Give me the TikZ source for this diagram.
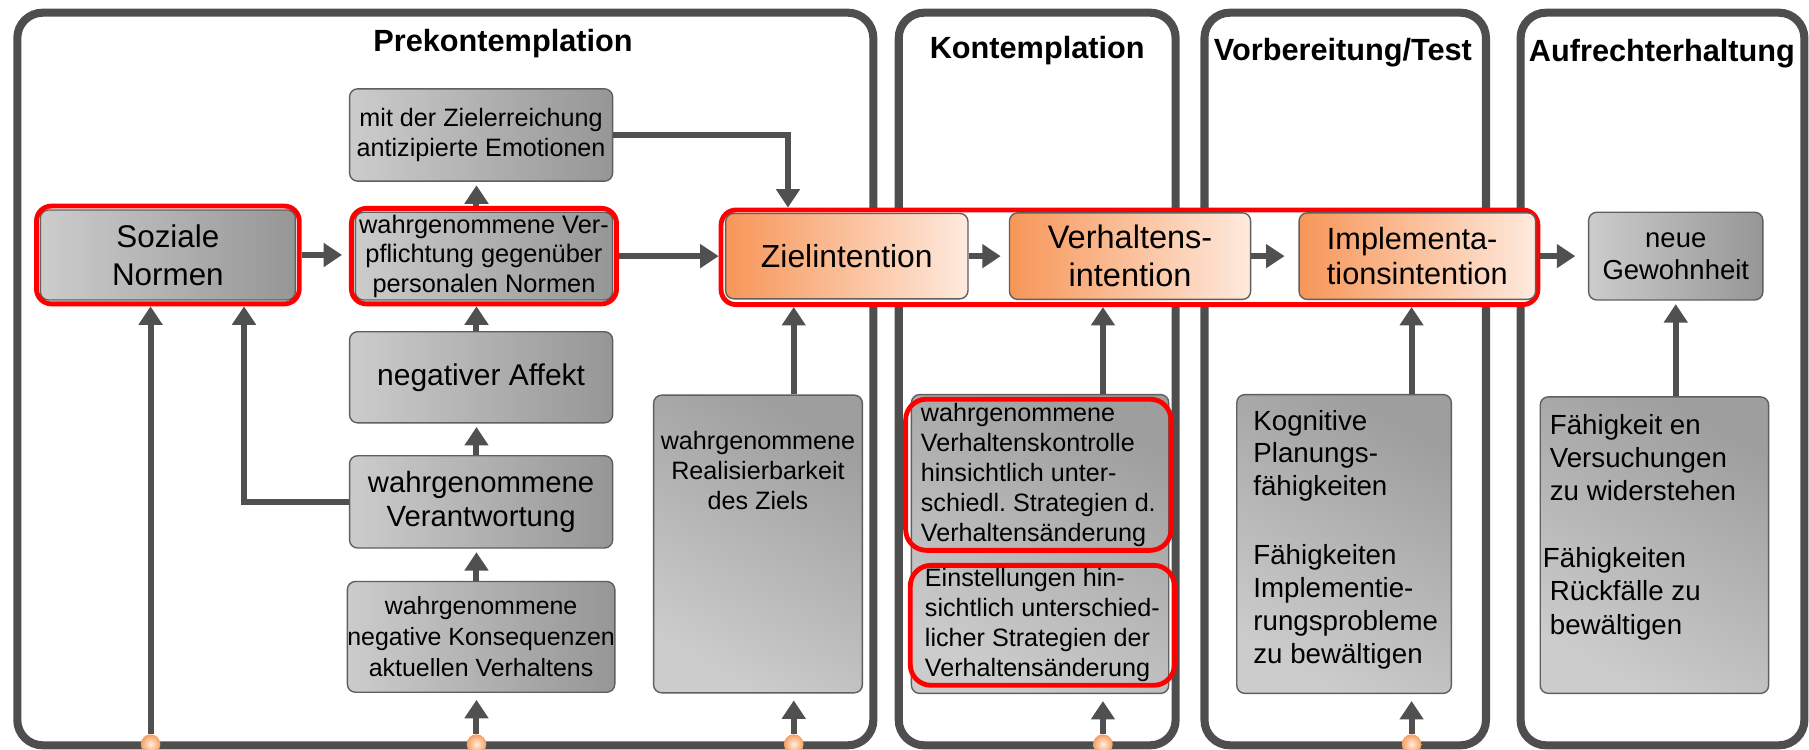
\documentclass[tikz,border=0pt]{standalone}
\usepackage{fontspec}
\setmainfont{Liberation Sans}
\usetikzlibrary{arrows.meta,fit,calc}
\frenchspacing

\definecolor{pgray}{RGB}{78,78,78}
\definecolor{agray}{RGB}{80,80,80}
\definecolor{boxline}{RGB}{95,95,95}
\definecolor{glight}{RGB}{204,204,204}
\definecolor{gdark}{RGB}{150,150,150}
\definecolor{gdarkt}{RGB}{158,158,158}
\definecolor{odark}{RGB}{247,150,88}
\definecolor{olight}{RGB}{254,234,222}
\definecolor{dotin}{RGB}{255,238,224}
\definecolor{dotout}{RGB}{247,158,96}

\begin{document}
\begin{tikzpicture}[x=0.5pt,y=-0.5pt,
  sz/.style 2 args={minimum width=#1*0.5pt, minimum height=#2*0.5pt},
  panel/.style={draw=pgray, line width=3.5pt, rounded corners=11pt, fill=white, inner sep=0pt},
  ttl/.style={font=\fontsize{13.3}{16}\selectfont\bfseries, anchor=base, inner sep=0pt},
  gbox/.style={draw=boxline, line width=0.6pt, rounded corners=3.5pt,
    left color=glight, right color=gdark, inner sep=0pt, align=center},
  obox/.style={draw=boxline, line width=0.6pt, rounded corners=3.5pt,
    left color=odark, right color=olight, inner sep=0pt, align=center},
  tbox/.style={draw=boxline, line width=0.6pt, rounded corners=3.5pt,
    top color=gdarkt, bottom color=glight, shading angle=-30, inner sep=0pt},
  hl/.style={draw=red, line width=2.1pt, rounded corners=6.5pt, inner sep=1.4pt},
  hlbig/.style={draw=red, line width=2.1pt, rounded corners=9pt, inner sep=0pt, align=left},
  arr/.style={draw=agray, line width=2.6pt, -{Triangle[length=8pt,width=10pt]}},
  dot/.style={circle, minimum size=8.5pt, inner sep=0pt, inner color=dotin, outer color=dotout},
  txt/.style={inner sep=0pt}
]
\useasboundingbox (0,0) rectangle (1568,650);

% stage panels
\node[panel, sz={742}{635}] (p1) at (386,328.5) {};
\node[panel, sz={240}{635}] (p2) at (899,328.5) {};
\node[panel, sz={244}{635}] (p3) at (1166,328.5) {};
\node[panel, sz={246}{635}] (p4) at (1441,328.5) {};

\node[ttl] (t1) at (436,44.8) {Prekontemplation};
\node[ttl] (t2) at (899,50.5) {Kontemplation};
\node[ttl] (t3) at (1164,52) {Vorbereitung/Test};
\node[ttl] (t4) at (1440.5,53.5) {Aufrechterhaltung};

% frame around the chain of intentions
\node[hl, fill=white, sz={708}{82}] (bigred) at (979,223) {};

% Prekontemplation
\node[gbox, sz={221}{78}, font=\fontsize{13.6}{16.5}\selectfont] (soz) at (145.5,221) {Soziale\\Normen};
\node[hl, fit=(soz)] (sozr) {};
\node[gbox, sz={223}{76}, font=\fontsize{11}{12.75}\selectfont] (verpf) at (419.5,222)
  {wahrgenommene Ver-\\pflichtung gegenüber\\personalen Normen};
\node[hl, fit=(verpf)] (verpfr) {};
\node[gbox, sz={228}{80}, font=\fontsize{10.9}{13.3}\selectfont] (emo) at (417,117)
  {mit der Zielerreichung\\antizipierte Emotionen};
\node[gbox, sz={228}{79}, font=\fontsize{13}{15}\selectfont] (aff) at (417,327) {negativer Affekt};
\node[gbox, sz={228}{80}, font=\fontsize{12.7}{14.7}\selectfont] (verant) at (417,435)
  {wahrgenommene\\Verantwortung};
\node[gbox, sz={228}{96}, font=\fontsize{10.8}{13.4}\selectfont] (kons) at (417,552)
  {wahrgenommene\\negative Konsequenzen\\aktuellen Verhaltens};
\node[tbox, sz={181}{258}] (real) at (657,471.5) {};
\node[txt, anchor=north, align=center, font=\fontsize{10.9}{13.2}\selectfont] (realtxt) at (657,373)
  {wahrgenommene\\Realisierbarkeit\\des Ziels};

% intentions
\node[obox, sz={210}{74}, font=\fontsize{13.8}{16.5}\selectfont] (ziel) at (734,222) {Zielintention};
\node[obox, sz={209}{75}, font=\fontsize{14.1}{16.5}\selectfont] (verh) at (979.5,222) {Verhaltens-\\intention};
\node[obox, sz={205}{75}, font=\fontsize{13.3}{15}\selectfont, align=left] (impl) at (1228.5,222)
  {Implementa-\\tionsintention};
\node[gbox, sz={151}{76}, font=\fontsize{11.9}{13.7}\selectfont] (neu) at (1452.5,222) {neue\\Gewohnheit};

% Kontemplation
\node[tbox, sz={223}{259}] (kbox) at (901.5,471.5) {};
\node[hlbig, sz={230}{131}, font=\fontsize{10.9}{13}\selectfont] (red1) at (900,411.5)
  {wahrgenommene\\Verhaltenskontrolle\\hinsichtlich unter-\\schiedl. Strategien d.\\Verhaltensänderung};
\node[hlbig, sz={229}{104}, font=\fontsize{10.9}{13}\selectfont] (red2) at (903.5,542)
  {Einstellungen hin-\\sichtlich unterschied-\\licher Strategien der\\Verhaltensänderung};

% Vorbereitung/Test
\node[tbox, sz={186}{259}] (kogn) at (1165,471.5) {};
\node[txt, anchor=north west, align=left, font=\fontsize{12}{14.2}\selectfont] (kogntxt) at (1086,355)
  {Kognitive\\Planungs-\\fähigkeiten\\[15.8pt]Fähigkeiten\\Implementie-\\rungsprobleme\\zu bewältigen};

% Aufrechterhaltung
\node[tbox, sz={198}{257}] (fae) at (1434,472.5) {};
\node[txt, anchor=north west, align=left, font=\fontsize{12}{14.35}\selectfont] (faetxt) at (1343,359)
  {Fähigkeit en\\Versuchungen\\zu widerstehen\\[14.65pt]\hspace*{-3pt}Fähigkeiten\\Rückfälle zu\\bewältigen};

% entry points on the bottom edge
\node[dot] (d1) at (130.5,645) {};
\node[dot] (d2) at (413,645) {};
\node[dot] (d3) at (688,645) {};
\node[dot] (d4) at (956,645) {};
\node[dot] (d5) at (1223.5,645) {};

% connectors
\draw[arr] (d1.north) -- (d1.north |- sozr.south);
\draw[arr] (verant.west) -| ([xshift=33pt]sozr.south);
\draw[arr, shorten >=3pt] (sozr.east) -- (sozr.east -| verpfr.west);
\draw[arr] (verpfr.east) -- (verpfr.east -| bigred.west);
\draw[arr, shorten >=1.5pt] (d2 |- verpfr.north) -- (d2 |- emo.south);
\draw[arr] (emo.east) -| (683,0 |- bigred.north);
\draw[arr, shorten >=3pt] (d2.north) -- (d2.north |- kons.south);
\draw[arr, shorten >=1.5pt] (d2 |- kons.north) -- (d2 |- verant.south);
\draw[arr, shorten >=1.5pt] (d2 |- verant.north) -- (d2 |- aff.south);
\draw[arr] (d2 |- aff.north) -- (d2 |- verpfr.south);
\draw[arr, shorten >=3pt] (d3.north) -- (d3.north |- real.south);
\draw[arr] (d3 |- real.north) -- (d3 |- bigred.south);
\draw[arr, shorten >=3.5pt] (ziel.east) -- (ziel.east -| verh.west);
\draw[arr, shorten >=6pt] (verh.east) -- (verh.east -| impl.west);
\draw[arr, shorten >=5.5pt] (ziel.east -| bigred.east) -- (ziel.east -| neu.west);
\draw[arr, shorten >=3pt] (d4.north) -- (d4.north |- kbox.south);
\draw[arr] (d4 |- kbox.north) -- (d4 |- bigred.south);
\draw[arr, shorten >=3pt] (d5.north) -- (d5.north |- kogn.south);
\draw[arr] (d5 |- kogn.north) -- (d5 |- bigred.south);
\draw[arr, shorten >=1.5pt] (neu.south |- fae.north) -- (neu.south);
\end{tikzpicture}
\end{document}
